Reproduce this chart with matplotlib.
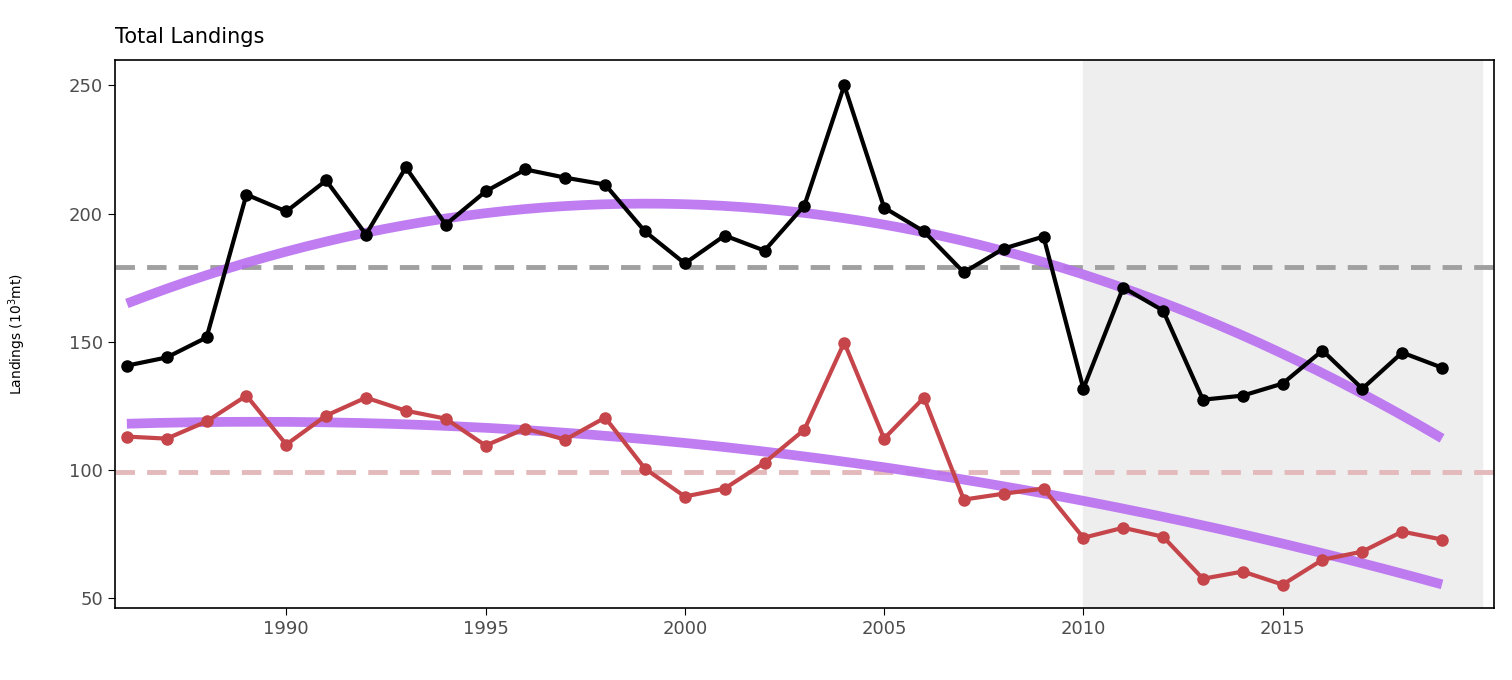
import numpy as np
import matplotlib.pyplot as plt

years = np.arange(1986, 2020)
total = [140.6, 143.8, 151.6, 207.4, 200.8, 212.9, 191.8, 218.0, 195.7, 208.6,
         217.2, 214.0, 211.3, 193.0, 180.5, 191.4, 185.5, 203.1, 250.0, 202.3,
         193.0, 177.0, 186.3, 191.0, 131.6, 171.1, 162.1, 127.3, 128.9, 133.6,
         146.5, 131.6, 145.7, 139.8]
part = [112.9, 112.1, 118.8, 128.9, 109.8, 121.1, 128.1, 123.0, 119.9, 109.4,
        116.0, 111.7, 120.3, 100.4, 89.5, 92.6, 102.7, 115.6, 149.6, 112.1,
        128.1, 88.3, 90.6, 92.6, 73.4, 77.3, 73.8, 57.4, 60.2, 55.1,
        64.8, 68.0, 75.8, 72.7]

fig = plt.figure(figsize=(15.12, 6.8), dpi=100)
ax = fig.add_axes([0.076, 0.106, 0.912, 0.806])

ax.axvspan(2010, 2020, color='#eeeeee', zorder=0)
ax.axhline(np.mean(total), color='#a0a0a0', ls=(0, (4, 2.5)), lw=3.5, zorder=1)
ax.axhline(np.mean(part), color='#e3b9bb', ls=(0, (4, 2.5)), lw=3.5, zorder=1)

# smooth trend (quadratic fit)
xs = np.linspace(1986, 2019, 200)
for series in (total, part):
    c = np.polyfit(years, series, 2)
    ax.plot(xs, np.polyval(c, xs), color='#b86ff0', alpha=0.9, lw=7, zorder=2, solid_capstyle='butt')

ax.plot(years, total, color='black', lw=3, marker='o', ms=8, zorder=3)
ax.plot(years, part, color='#c5454a', lw=3, marker='o', ms=8, zorder=3)

ax.set_xlim(1985.7, 2020.3)
ax.set_ylim(46, 260)
ax.set_xticks([1990, 1995, 2000, 2005, 2010, 2015])
ax.set_yticks([50, 100, 150, 200, 250])
ax.tick_params(labelsize=13, colors='black', labelcolor='#4d4d4d', length=5)
for s in ax.spines.values():
    s.set_linewidth(1.2)
ax.set_ylabel('Landings (10$^3$mt)', fontsize=10, labelpad=14)
ax.yaxis.set_label_coords(-0.063, 0.5)
ax.set_title('Total Landings', loc='left', fontsize=15, pad=12)

fig.savefig('out.png', dpi=100)
